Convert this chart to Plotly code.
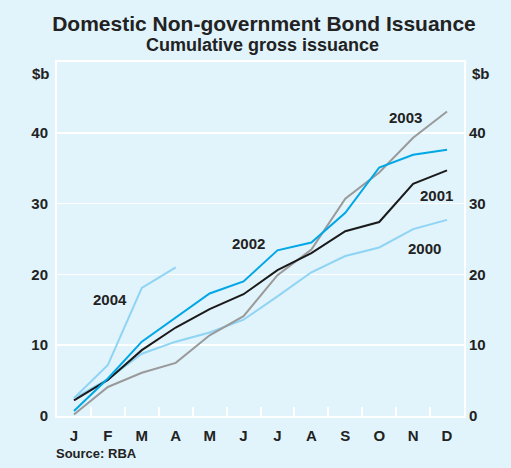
import plotly.graph_objects as go

months = ["J", "F", "M", "A", "M", "J", "J", "A", "S", "O", "N", "D"]
y2000 = [2.5, 5.2, 8.8, 10.5, 11.8, 13.6, 16.9, 20.3, 22.6, 23.8, 26.4, 27.7]
y2001 = [2.2, 5.1, 9.3, 12.5, 15.1, 17.2, 20.6, 23.0, 26.1, 27.4, 32.8, 34.7]
y2002 = [0.7, 5.3, 10.5, 13.9, 17.3, 19.0, 23.4, 24.5, 28.7, 35.1, 36.9, 37.6]
y2003 = [0.2, 4.1, 6.1, 7.5, 11.4, 14.1, 19.9, 23.5, 30.7, 34.4, 39.3, 43.0]
y2004 = [2.5, 7.2, 18.1, 21.0]
y_ticks = [0, 10, 20, 30, 40]

BG = "#e1f3fb"
FONT = "Liberation Sans, Arial, Helvetica, sans-serif"
C2000 = "#8fd4f4"
C2001 = "#1a1a1a"
C2002 = "#00a7e6"
C2003 = "#9a9a9a"
C2004 = "#8fd4f4"

idx = list(range(len(months)))

fig = go.Figure()
series = [("2000", y2000, C2000), ("2003", y2003, C2003), ("2001", y2001, C2001),
          ("2002", y2002, C2002), ("2004", y2004, C2004)]
for name, vals, col in series:
    fig.add_trace(go.Scatter(x=idx[:len(vals)], y=vals, mode="lines", name=name,
                             line=dict(color=col, width=2), showlegend=False,
                             hoverinfo="skip"))

# invisible trace to anchor the right-hand axis
fig.add_trace(go.Scatter(x=[0], y=[0], yaxis="y2", mode="markers",
                         marker=dict(opacity=0), showlegend=False, hoverinfo="skip"))

labels = [("2004", 1.06, 16.5), ("2002", 5.16, 24.3), ("2003", 9.77, 42.1),
          ("2001", 10.69, 31.2), ("2000", 10.34, 23.6)]
for txt, lx, ly in labels:
    fig.add_annotation(x=lx, y=ly, text="<b>%s</b>" % txt, showarrow=False,
                       font=dict(size=15, color="#222222", family=FONT),
                       xanchor="center", yanchor="middle")

fig.add_annotation(xref="paper", yref="paper", x=0, y=1, xanchor="right", yanchor="middle",
                   xshift=-5, yshift=-11, text="<b>$b</b>", showarrow=False,
                   font=dict(size=15, color="#222222", family=FONT))
fig.add_annotation(xref="paper", yref="paper", x=1, y=1, xanchor="left", yanchor="middle",
                   xshift=6, yshift=-11, text="<b>$b</b>", showarrow=False,
                   font=dict(size=15, color="#222222", family=FONT))
fig.add_annotation(xref="paper", yref="paper", x=0.5, y=1, xanchor="center", yanchor="middle",
                   xshift=2, yshift=17, text="<b>Cumulative gross issuance</b>", showarrow=False,
                   font=dict(size=18, color="#222222", family=FONT))
fig.add_annotation(xref="paper", yref="paper", x=0, y=0, xanchor="left", yanchor="middle",
                   xshift=-3, yshift=-37, text="<b>Source: RBA</b>", showarrow=False,
                   font=dict(size=13, color="#222222", family=FONT))

axis_font = dict(size=15, color="#222222", family=FONT)
fig.update_layout(
    width=511, height=468,
    margin=dict(l=57, r=47, t=62, b=52),
    paper_bgcolor=BG, plot_bgcolor=BG,
    title=dict(text="<b>Domestic Non-government Bond Issuance</b>", x=264 / 511,
               xanchor="center", y=1 - 24 / 468, yanchor="middle", yref="container",
               font=dict(size=21, color="#222222", family=FONT)),
    xaxis=dict(range=[-0.5, 11.5], tickmode="array", tickvals=idx,
               ticktext=["<b>%s</b>" % m for m in months],
               ticks="", showgrid=False, zeroline=False, showline=True, linecolor="white",
               linewidth=2, mirror=True, tickfont=axis_font, ticklabelstandoff=5,
               minor=dict(tickmode="array", tickvals=[i + 0.5 for i in idx[:-1]],
                          ticks="inside", ticklen=9, tickwidth=2, tickcolor="white",
                          showgrid=False)),
    yaxis=dict(range=[0, 50], tickvals=y_ticks, ticktext=["<b>%d</b>" % v for v in y_ticks],
               ticks="", showgrid=True, gridcolor="white", gridwidth=1.5, zeroline=False,
               showline=True, linecolor="white", linewidth=2, mirror=True,
               tickfont=axis_font, ticklabelstandoff=4),
    yaxis2=dict(range=[0, 50], overlaying="y", side="right", anchor="x",
                tickvals=y_ticks, ticktext=["<b>%d</b>" % v for v in y_ticks],
                ticks="", showgrid=False, zeroline=False, showline=False,
                tickfont=axis_font, ticklabelstandoff=4),
)

fig.write_html("out.html", config={"displayModeBar": False, "staticPlot": True},
               post_script="document.body.style.margin='0';"
                           "document.body.style.background='%s';" % BG)
